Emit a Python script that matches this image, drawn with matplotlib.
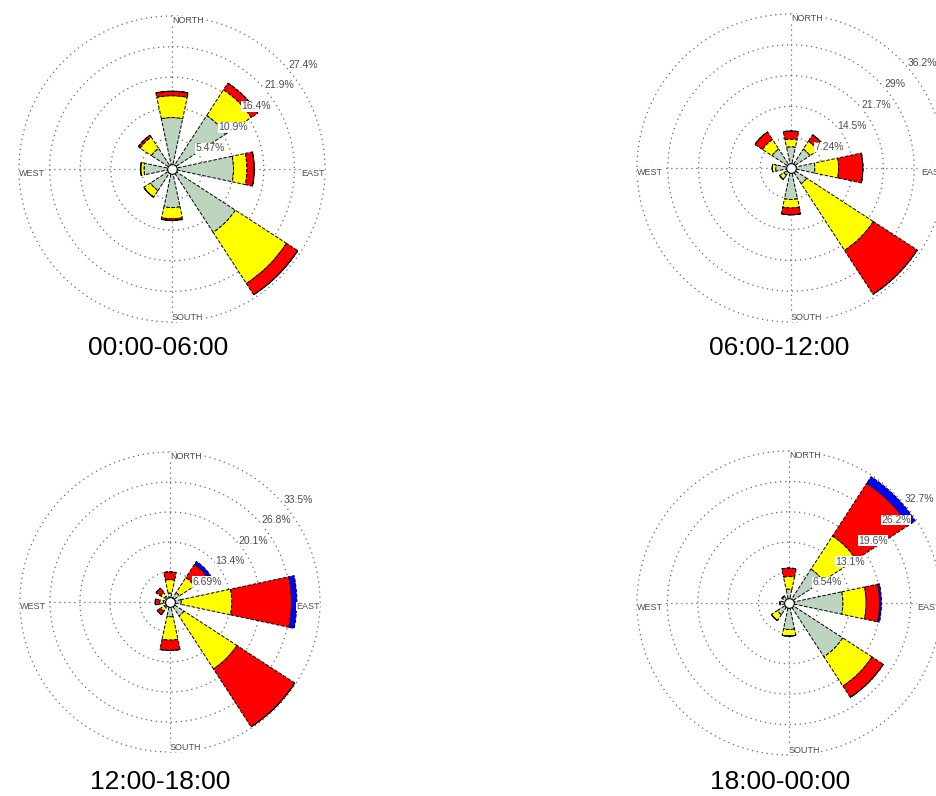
import numpy as np
import matplotlib.pyplot as plt

plt.rcParams['font.family'] = ['Liberation Sans', 'DejaVu Sans']

# wind directions (deg, clockwise from north): N, NE, E, SE, S, SW, W, NW
directions = [0, 45, 90, 135, 180, 225, 270, 315]
titles = ['00:00-06:00', '06:00-12:00', '12:00-18:00', '18:00-00:00']

# ring spacing (%) and ring labels
ring_step = [5.47, 7.24, 6.69, 6.54]
p1_rings = ['5.47%', '10.9%', '16.4%', '21.9%', '27.4%']
p2_rings = ['7.24%', '14.5%', '21.7%', '29%', '36.2%']
p3_rings = ['6.69%', '13.4%', '20.1%', '26.8%', '33.5%']
p4_rings = ['6.54%', '13.1%', '19.6%', '26.2%', '32.7%']

# cumulative frequency (%) reached by each speed class, per direction
p1_green = [9.2, 11.4, 11.0, 13.5, 6.9, 4.6, 5.0, 4.4]
p1_yellow = [13.1, 16.9, 13.4, 24.4, 8.9, 6.0, 5.6, 6.8]
p1_red = [13.9, 18.3, 14.7, 26.8, 9.2, 6.0, 5.6, 7.2]
p1_blue = [13.9, 18.3, 14.7, 26.8, 9.2, 6.0, 5.6, 7.2]

p2_green = [5.0, 5.3, 5.6, 4.4, 7.4, 2.0, 3.6, 5.3]
p2_yellow = [6.8, 7.5, 11.2, 23.1, 9.4, 3.2, 4.4, 8.0]
p2_red = [8.7, 9.3, 16.9, 35.4, 11.0, 3.2, 4.4, 10.1]
p2_blue = [8.7, 9.3, 16.9, 35.4, 11.0, 3.2, 4.4, 10.1]

p3_green = [2.0, 2.5, 2.5, 3.7, 3.3, 1.5, 1.5, 1.5]
p3_yellow = [5.0, 6.5, 13.8, 17.8, 8.5, 2.5, 2.3, 2.5]
p3_red = [6.7, 10.0, 27.1, 33.2, 10.8, 3.4, 3.3, 3.7]
p3_blue = [6.7, 10.8, 28.3, 33.2, 10.8, 3.4, 3.3, 3.7]

p4_green = [3.0, 8.7, 11.6, 13.8, 5.7, 3.0, 2.0, 1.8]
p4_yellow = [5.7, 17.2, 16.6, 21.3, 7.1, 4.5, 2.0, 1.8]
p4_red = [7.5, 30.7, 19.5, 24.2, 7.1, 4.5, 2.0, 1.8]
p4_blue = [7.5, 32.4, 19.9, 24.2, 7.1, 4.5, 2.0, 1.8]

colors = ['#bdd5bf', '#ffff00', '#ff0000', '#0000ff']

W, H = 936, 796
fig = plt.figure(figsize=(W / 100, H / 100), dpi=100)

# rose centre and radius in pixels, title anchor (x, baseline y)
panels = [
    ((172, 169), 153, (158, 355)),
    ((791, 168), 154, (779, 355)),
    ((170, 602), 150, (160, 789)),
    ((789, 603), 152, (780, 789)),
]
rings = [p1_rings, p2_rings, p3_rings, p4_rings]
data = [
    [p1_green, p1_yellow, p1_red, p1_blue],
    [p2_green, p2_yellow, p2_red, p2_blue],
    [p3_green, p3_yellow, p3_red, p3_blue],
    [p4_green, p4_yellow, p4_red, p4_blue],
]

theta = np.deg2rad(directions)
width = np.deg2rad(24)
circ = np.linspace(0, 2 * np.pi, 400)
dots = dict(color='0.4', lw=0.9, linestyle=(0, (1, 3)), clip_on=False, zorder=1)
small = dict(fontsize=6.5, color='0.3', zorder=6)

for i, ((cx, cy), R, (tx, ty)) in enumerate(panels):
    ax = fig.add_axes([(cx - R) / W, (H - cy - R) / H, 2 * R / W, 2 * R / H],
                      projection='polar')
    ax.set_theta_zero_location('N')
    ax.set_theta_direction(-1)
    step = ring_step[i]
    rmax = 5 * step
    ax.set_ylim(0, rmax)
    ax.set_axis_off()

    # dotted rings and axes
    for k in range(1, 6):
        ax.plot(circ, np.full_like(circ, k * step), **dots)
    ax.plot([0, np.pi], [rmax, rmax], **dots)
    ax.plot([np.pi / 2, 3 * np.pi / 2], [rmax, rmax], **dots)

    # stacked wedges
    bottom = np.zeros(len(directions))
    for cls, col in zip(data[i], colors):
        top = np.array(cls)
        ax.bar(theta, top - bottom, width=width, bottom=bottom, color=col,
               edgecolor='black', linewidth=0.7, linestyle='--', zorder=3)
        bottom = top
    ax.plot([0], [0], 'o', ms=7, mfc='white', mec='black', mew=0.8, zorder=5)

    # ring labels
    box = dict(facecolor='white', edgecolor='none', pad=0.3)
    for k, lab in enumerate(rings[i], start=1):
        ax.text(np.deg2rad(48), k * step * 1.02, lab, ha='left', va='center',
                bbox=box, fontsize=7.5, color='0.3', zorder=6)

    # compass labels
    ax.text(0, rmax, 'NORTH', ha='left', va='top', bbox=box, **small)
    ax.text(np.pi, rmax, 'SOUTH', ha='left', va='bottom', bbox=box, **small)
    ax.text(np.pi / 2, rmax, 'EAST', ha='right', va='top', bbox=box, **small)
    ax.text(3 * np.pi / 2, rmax, 'WEST', ha='left', va='top', bbox=box, **small)

    fig.text(tx / W, 1 - ty / H, titles[i], ha='center', va='baseline',
             fontsize=19, color='black')

fig.savefig('out.png', dpi=100)
